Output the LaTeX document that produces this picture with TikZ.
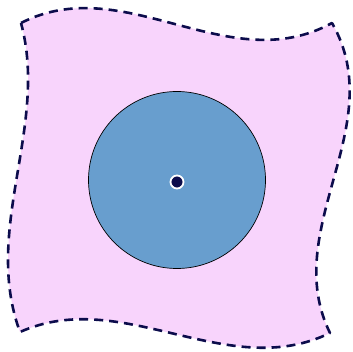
\documentclass[tikz,border=0pt]{standalone}
\begin{document}
\begin{tikzpicture}[x=1pt,y=-1pt,
  regionstyle/.style={fill=pinkfill, draw=navy, line width=2.6pt, dash pattern=on 9pt off 6pt, line join=round},
  discstyle/.style={circle, fill=discblue, draw=black, line width=0.7pt, minimum size=177pt, inner sep=0pt},
  dotstyle/.style={circle, fill=navy, draw=white, line width=1.8pt, minimum size=13pt, inner sep=0pt}]
\definecolor{pinkfill}{HTML}{F8D4FC}
\definecolor{navy}{HTML}{0C0C4C}
\definecolor{discblue}{HTML}{689ECE}
\useasboundingbox (0,0) rectangle (353,352);
\coordinate (tl) at (21,23);
\coordinate (tr) at (332,23);
\coordinate (br) at (330,333);
\coordinate (bl) at (20,332);
\path[regionstyle] (tl) .. controls (125,-30) and (228,80) .. (tr)
  .. controls (391,126) and (279,229) .. (br)
  .. controls (227,383) and (123,286) .. (bl)
  .. controls (-18,229) and (49,126) .. (tl) -- cycle;
\node[discstyle] (disc) at (177,180) {};
\node[dotstyle] (center) at (177,182) {};
\end{tikzpicture}
\end{document}
